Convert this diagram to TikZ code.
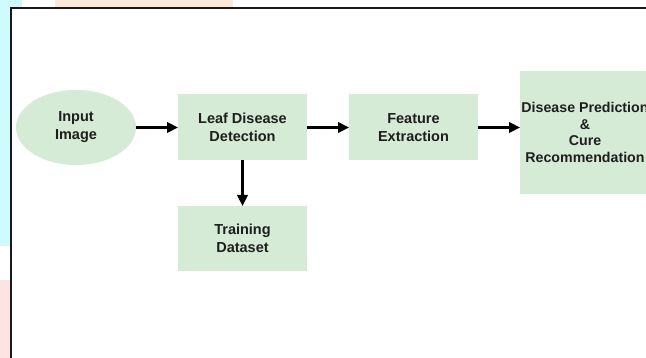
\documentclass[tikz,border=0pt]{standalone}
\usepackage{fontspec}
\setmainfont{Liberation Sans}
\usetikzlibrary{shapes.geometric,arrows.meta}
\definecolor{boxgreen}{HTML}{D5EBD5}
\definecolor{bgcyan}{HTML}{CFFBFE}
\definecolor{bgpeach}{HTML}{FDEAD8}
\definecolor{bgpink}{HTML}{FDE4E4}
\definecolor{txt}{HTML}{1E1E1E}
\begin{document}
\begin{tikzpicture}[x=1pt,y=-1pt,
  block/.style={rectangle,fill=boxgreen,draw=none,inner sep=0pt,outer sep=0pt,
    align=center,text=txt,font=\fontsize{14.5}{18}\selectfont\bfseries},
  oval/.style={ellipse,fill=boxgreen,draw=none,inner sep=0pt,outer sep=0pt,
    align=center,text=txt,font=\fontsize{14.5}{18}\selectfont\bfseries},
  conn/.style={line width=2.2pt,-{Triangle[length=11pt,width=10.5pt]}}]
\useasboundingbox (0,0) rectangle (646,358);
\clip (0,0) rectangle (646,358);
% background decorations
\fill[bgcyan] (0,0) rectangle (22,246);
\fill[bgpink] (0,280) rectangle (22,358);
\fill[bgpeach] (55,0) rectangle (233,10);
% frame
\fill[white] (11,8) rectangle (680,380);
\draw[line width=1.4pt,black!90] (11,380) -- (11,8) -- (680,8);
% nodes
\node[oval,minimum width=120pt,minimum height=75pt] (in) at (76,127.5) {Input\\Image};
\node[block,minimum width=129pt,minimum height=66pt] (leaf) at (242.5,127.5) {Leaf Disease\\Detection};
\node[block,minimum width=129pt,minimum height=66pt] (feat) at (413.5,127.5) {Feature\\Extraction};
\node[block,minimum width=130pt,minimum height=123pt,font=\fontsize{14.2}{16.7}\selectfont\bfseries] (pred) at (585,132.5) {Disease Prediction\\\&\\Cure\\Recommendation};
\node[block,minimum width=129pt,minimum height=65pt] (train) at (242.5,238.5) {Training\\Dataset};
% connectors
\draw[conn] (in.east) -- (leaf.west);
\draw[conn] (leaf.east) -- (feat.west);
\draw[conn] (feat.east) -- (feat.east -| pred.west);
\draw[conn] (leaf.south) -- (train.north);
\end{tikzpicture}
\end{document}
